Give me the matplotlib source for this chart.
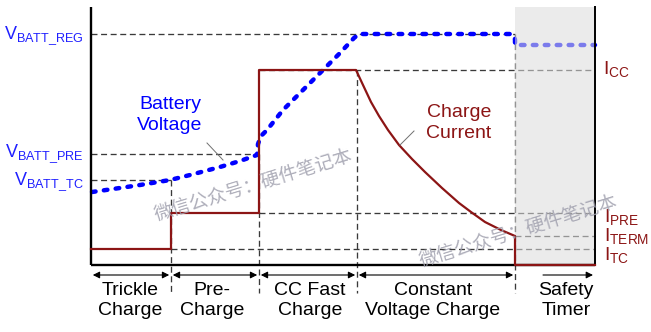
import matplotlib
matplotlib.use("Agg")
import matplotlib.pyplot as plt
from matplotlib.patches import Rectangle

plt.rcParams['font.family'] = ['Liberation Sans', 'DejaVu Sans']
plt.rcParams['mathtext.fontset'] = 'custom'
plt.rcParams['mathtext.rm'] = 'Liberation Sans'
plt.rcParams['lines.scale_dashes'] = False

# time axis: phase boundaries (arbitrary units)
t_end = 5.04
phase_edges = [0.0, 0.80, 1.68, 2.66, 4.24]
phase_labels = ["Trickle\nCharge", "Pre-\nCharge", "CC Fast\nCharge",
                "Constant\nVoltage Charge", "Safety\nTimer"]
label_x = [0.39, 1.21, 2.19, 3.42, 4.75]

# levels (arbitrary units)
v_reg = 2.31
v_pre = 1.11
v_tc = 0.85
i_cc = 1.95
i_pre = 0.52
i_term = 0.29
i_tc = 0.16

# battery voltage
volt_t = [0.01, 0.22, 0.49, 0.79, 0.99, 1.29, 1.49, 1.66, 1.67, 1.70, 1.76, 1.92,
          2.12, 2.29, 2.49, 2.63, 2.68, 2.75, 4.20, 4.235, 4.24, 4.24, 5.04]
volt_v = [0.73, 0.76, 0.80, 0.85, 0.90, 0.98, 1.04, 1.10, 1.21, 1.29, 1.35, 1.55,
          1.75, 1.92, 2.12, 2.27, 2.31, 2.31, 2.31, 2.29, 2.25, 2.20, 2.20]

# charge current
curr_t = [0.0, 0.80, 0.80, 1.68, 1.68, 2.65, 2.72, 2.80, 2.88, 2.97, 3.08, 3.21,
          3.34, 3.51, 3.68, 3.80, 3.94, 4.10, 4.24, 4.24, 5.04]
curr_i = [0.16, 0.16, 0.52, 0.52, 1.95, 1.95, 1.80, 1.63, 1.49, 1.35, 1.20, 1.06,
          0.93, 0.77, 0.62, 0.53, 0.43, 0.35, 0.29, 0.0, 0.0]

blue = '#0000ff'
red = '#8c1515'
vblue = '#2020ff'
dash_col = '#3a3a3a'

fig = plt.figure(figsize=(6.51, 3.32), dpi=100)
ax = fig.add_axes([0, 0, 1, 1])
ax.set_xlim(-0.91, 5.60)
ax.set_ylim(-0.67, 2.65)
ax.axis('off')

dk = dict(color=dash_col, lw=0.95, dashes=(4.3, 2.6), zorder=2)
# horizontal reference lines
ax.plot([0, phase_edges[4]], [v_reg, v_reg], **dk)
ax.plot([0, phase_edges[2]], [v_pre, v_pre], **dk)
ax.plot([0, phase_edges[1]], [v_tc, v_tc], **dk)
ax.plot([phase_edges[2], t_end], [i_cc, i_cc], **dk)
ax.plot([phase_edges[2], t_end], [i_pre, i_pre], **dk)
ax.plot([phase_edges[4], t_end], [i_term, i_term], **dk)
ax.plot([phase_edges[1], t_end], [i_tc, i_tc], **dk)
# vertical phase lines
vtops = [v_tc, v_pre, i_cc, v_reg]
for x, top in zip(phase_edges[1:], vtops):
    ax.plot([x, x], [top, -0.28], **dk)

# battery voltage
ax.plot(volt_t, volt_v, color=blue, lw=3.2, dashes=(2.6, 6.0),
        dash_capstyle='round', solid_joinstyle='round', zorder=3)

# safety timer shading
ax.add_patch(Rectangle((phase_edges[4], 0), t_end - phase_edges[4], 2.58,
                       facecolor='#dcdcdc', alpha=0.56, edgecolor='none', zorder=4))

# axes lines
ax.plot([0, 0], [2.58, 0], color='black', lw=1.7, zorder=5, solid_capstyle='butt')
ax.plot([0, t_end], [0, 0], color='black', lw=1.7, zorder=5, solid_capstyle='butt')
ax.plot([t_end, t_end], [2.59, 0], color='black', lw=1.4, zorder=5, solid_capstyle='butt')

# charge current
ax.plot(curr_t, curr_i, color=red, lw=1.6, zorder=6, solid_joinstyle='round')

# phase arrows
ay = -0.10
g = 0.018
for a, b in zip(phase_edges[:-1], phase_edges[1:]):
    ax.annotate('', xy=(b - g, ay), xytext=(a + g, ay),
                arrowprops=dict(arrowstyle='<|-|>', color='black', lw=0.8,
                                mutation_scale=10, shrinkA=0, shrinkB=0))
ax.annotate('', xy=(t_end - 0.02, ay), xytext=(4.52, ay),
            arrowprops=dict(arrowstyle='-|>', color='black', lw=0.8,
                            mutation_scale=10, shrinkA=0, shrinkB=0))

for x, lab in zip(label_x, phase_labels):
    ax.text(x, -0.355, lab, ha='center', va='center', fontsize=14,
            linespacing=1.3, color='black')

# left labels
ax.text(-0.07, v_reg - 0.05, r'$\mathregular{V_{BATT\_REG}}$', ha='right',
        va='baseline', fontsize=13, color=vblue)
ax.text(-0.07, v_pre - 0.03, r'$\mathregular{V_{BATT\_PRE}}$', ha='right',
        va='baseline', fontsize=13, color=vblue)
ax.text(-0.07, v_tc - 0.05, r'$\mathregular{V_{BATT\_TC}}$', ha='right',
        va='baseline', fontsize=13, color=vblue)

# right labels
ax.text(5.12, 1.91, r'$\mathregular{I_{CC}}$', ha='left', va='baseline',
        fontsize=14, color=red)
ax.text(5.13, 0.43, r'$\mathregular{I_{PRE}}$', ha='left', va='baseline',
        fontsize=14, color=red)
ax.text(5.13, 0.235, r'$\mathregular{I_{TERM}}$', ha='left', va='baseline',
        fontsize=14, color=red)
ax.text(5.13, 0.05, r'$\mathregular{I_{TC}}$', ha='left', va='baseline',
        fontsize=14, color=red)

# curve labels with leader lines
ax.text(0.79, 1.50, "Battery\nVoltage", ha='center', va='center', fontsize=14,
        linespacing=1.3, color=blue)
ax.plot([1.16, 1.32], [1.22, 1.05], color='#707070', lw=0.7, zorder=7)
ax.text(3.68, 1.42, "Charge\nCurrent", ha='center', va='center', fontsize=14,
        linespacing=1.3, color=red)
ax.plot([3.23, 3.09], [1.34, 1.20], color='#707070', lw=0.7, zorder=7)

# watermark
wm = "微信公众号：硬件笔记本"
for x, y in [(1.62, 0.80), (4.27, 0.34)]:
    ax.text(x, y, wm, ha='center', va='center', rotation=17, rotation_mode='anchor',
            fontsize=13.5, color='#a0a0ae', alpha=0.85,
            family=['Noto Sans CJK SC', 'DejaVu Sans'], zorder=8)

fig.savefig('out.png', dpi=100)
